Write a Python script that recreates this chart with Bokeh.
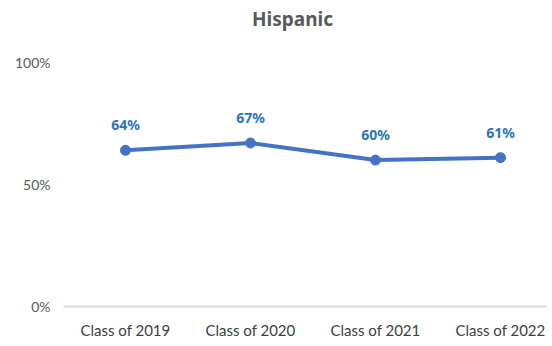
from bokeh.plotting import figure
from bokeh.models import ColumnDataSource, FixedTicker, Range1d, LabelSet, Label
from bokeh.core.properties import value
from bokeh.embed import file_html
from bokeh.resources import INLINE

categories = ["Class of 2019", "Class of 2020", "Class of 2021", "Class of 2022"]
values = [64, 67, 60, 61]
value_labels = ["64%", "67%", "60%", "61%"]
y_ticks = [0, 50, 100]
y_tick_labels = ["0%", "50%", "100%"]
chart_title = "Hispanic"

FONT = "Lato"
BOLD_FONT = "Noto Sans"
GRAY = "#595959"

xs = list(range(len(categories)))
src = ColumnDataSource(dict(x=xs, y=values, lab=value_labels))

p = figure(width=552, height=346, output_backend="svg", toolbar_location=None,
           x_range=Range1d(-0.496, 3.368), y_range=Range1d(0, 125.41),
           min_border_left=63, min_border_right=6, min_border_top=0, min_border_bottom=40)
p.outline_line_color = None
p.border_fill_color = "white"
p.grid.visible = False
p.background_fill_color = "white"

title = Label(x=229, y=288, x_units="screen", y_units="screen", text=chart_title,
              text_align="center", text_baseline="middle", text_font=BOLD_FONT,
              text_font_size="19px", text_font_style="bold", text_color=GRAY)
p.add_layout(title)

p.line("x", "y", source=src, line_color="#4472C4", line_width=4)
p.scatter("x", "y", source=src, size=10, fill_color="#4472C4", line_color="#4472C4")

labels = LabelSet(x="x", y="y", text="lab", source=src, y_offset=16, x_offset=0,
                  text_align="center", text_baseline="bottom",
                  text_font=value(BOLD_FONT), text_font_size=value("14px"),
                  text_font_style="bold", text_color="#2E75B6")
p.add_layout(labels)

p.xaxis.ticker = FixedTicker(ticks=xs)
p.xaxis.major_label_overrides = {i: c for i, c in zip(xs, categories)}
p.xaxis.axis_line_color = "#D9D9D9"
p.xaxis.axis_line_width = 2
p.xaxis.major_tick_line_color = None
p.xaxis.minor_tick_line_color = None
p.xaxis.major_label_text_font = FONT
p.xaxis.major_label_text_font_size = "15px"
p.xaxis.major_label_text_color = "#404040"
p.xaxis.major_label_standoff = 8

p.yaxis.ticker = FixedTicker(ticks=y_ticks)
p.yaxis.major_label_overrides = {t: l for t, l in zip(y_ticks, y_tick_labels)}
p.yaxis.axis_line_color = None
p.yaxis.major_tick_line_color = None
p.yaxis.minor_tick_line_color = None
p.yaxis.major_label_text_font = FONT
p.yaxis.major_label_text_font_size = "14px"
p.yaxis.major_label_text_color = GRAY
p.yaxis.major_label_standoff = 7

open("out.html", "w").write(file_html(p, INLINE))
